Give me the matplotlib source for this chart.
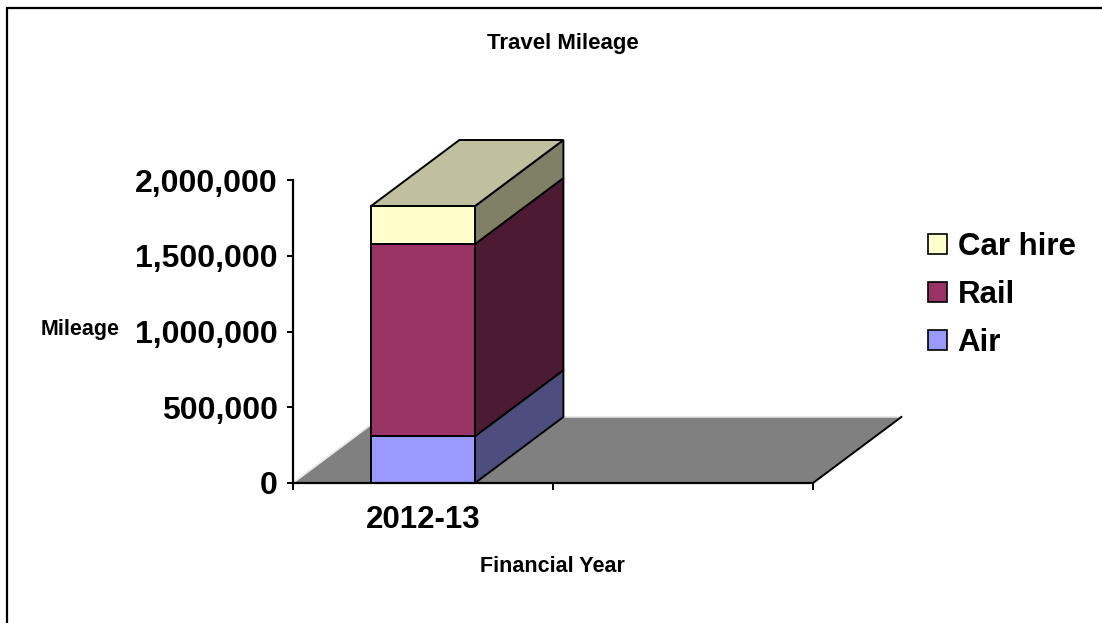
import matplotlib
matplotlib.use("Agg")
import matplotlib.pyplot as plt
from matplotlib.patches import Polygon, Patch, Rectangle
from matplotlib.ticker import FuncFormatter

plt.rcParams['font.family'] = ['Liberation Sans', 'DejaVu Sans']
plt.rcParams['font.weight'] = 'bold'

# ---- data ----
categories = ["2012-13", ""]
series_names = ["Air", "Rail", "Car hire"]
air = [309000]
rail = [1268000]
car_hire = [251000]
y_ticks = [0, 500000, 1000000, 1500000, 2000000]

front_colors = ["#9999FF", "#993366", "#FFFFCC"]
side_colors = ["#4D4D80", "#4C1A33", "#808066"]
top_color = "#C0C09E"

W, H = 1102, 623
fig = plt.figure(figsize=(W / 100, H / 100), dpi=100)
ax = fig.add_axes([293 / W, (H - 483) / H, 520 / W, 303 / H])
ax.set_xlim(-0.5, 1.5)
ax.set_ylim(0, 2000000)

# depth offset (in data units)
DX = 0.34
DY = 436000

# floor
floor = Polygon([(-0.5, 0), (1.5, 0), (1.5 + DX, DY), (-0.5 + DX, DY)],
                closed=True, facecolor="#808080", edgecolor="none",
                clip_on=False, zorder=1)
ax.add_patch(floor)
ax.plot([-0.5, -0.5 + DX, 1.5 + DX], [0, DY, DY], color="#E6E6E6",
        lw=1.2, clip_on=False, zorder=1.5)
ax.plot([1.5, 1.5 + DX], [0, DY], color="black", lw=1.4,
        clip_on=False, zorder=1.5)

# stacked bars
width = 0.4
series = [air, rail, car_hire]
x_pos = list(range(len(air)))
for i, xc in enumerate(x_pos):
    bottom = 0
    x0, x1 = xc - width / 2, xc + width / 2
    for s, vals in enumerate(series):
        v = vals[i]
        ax.bar(xc, v, width=width, bottom=bottom, color=front_colors[s],
               edgecolor="black", linewidth=1.4, zorder=3, clip_on=False)
        side = Polygon([(x1, bottom), (x1 + DX, bottom + DY),
                        (x1 + DX, bottom + v + DY), (x1, bottom + v)],
                       closed=True, facecolor=side_colors[s],
                       edgecolor="black", linewidth=1.4, zorder=2.5,
                       clip_on=False)
        ax.add_patch(side)
        bottom += v
    top = Polygon([(x0, bottom), (x1, bottom), (x1 + DX, bottom + DY),
                   (x0 + DX, bottom + DY)], closed=True, facecolor=top_color,
                  edgecolor="black", linewidth=1.4, zorder=2.5, clip_on=False)
    ax.add_patch(top)

# axes styling
for sp in ["top", "right"]:
    ax.spines[sp].set_visible(False)
ax.spines["left"].set_linewidth(1.6)
ax.spines["bottom"].set_linewidth(1.6)
ax.spines["left"].set_zorder(4)
ax.spines["bottom"].set_zorder(4)
ax.set_yticks(y_ticks)
ax.yaxis.set_major_formatter(FuncFormatter(lambda v, p: f"{int(v):,}"))
ax.tick_params(axis="y", direction="out", length=4, width=1.4,
               labelsize=23, pad=7)
ax.set_xticks([-0.5, 0.5, 1.5])
ax.set_xticklabels([])
ax.tick_params(axis="x", which="major", direction="out", length=5, width=1.4)
ax.set_xticks([0, 1], minor=True)
ax.set_xticklabels(categories, minor=True)
ax.tick_params(axis="x", which="minor", length=0, labelsize=22.5, pad=16)
for lab in ax.get_yticklabels() + ax.get_xticklabels(minor=True):
    lab.set_fontweight("bold")
ax.patch.set_visible(False)

# titles
fig.text(563 / W, 1 - 43 / H, "Travel Mileage", ha="center", va="center",
         fontsize=16, fontweight="bold")
fig.text(80 / W, 1 - 330 / H, "Mileage", ha="center", va="center",
         fontsize=15.5, fontweight="bold")
fig.text(552 / W, 1 - 567 / H, "Financial Year", ha="center", va="center",
         fontsize=15.5, fontweight="bold")

# legend (reversed order, as in reference)
handles = [Patch(facecolor=front_colors[s], edgecolor="black", linewidth=1.2,
                 label=series_names[s]) for s in [2, 1, 0]]
fig.legend(handles=handles, loc="center left",
           bbox_to_anchor=(928 / W, 1 - 295 / H), frameon=False,
           prop={"size": 22.5, "weight": "bold"}, handlelength=0.6,
           handleheight=0.6, handletextpad=0.35, labelspacing=0.58,
           borderaxespad=0, borderpad=0)

# chart border
fig.patches.append(Rectangle((7 / W, -0.2), 1.2, 1.2 - 8 / H + 0.0,
                             transform=fig.transFigure, fill=False,
                             edgecolor="black", linewidth=1.6))

fig.savefig("out.png", dpi=100)
